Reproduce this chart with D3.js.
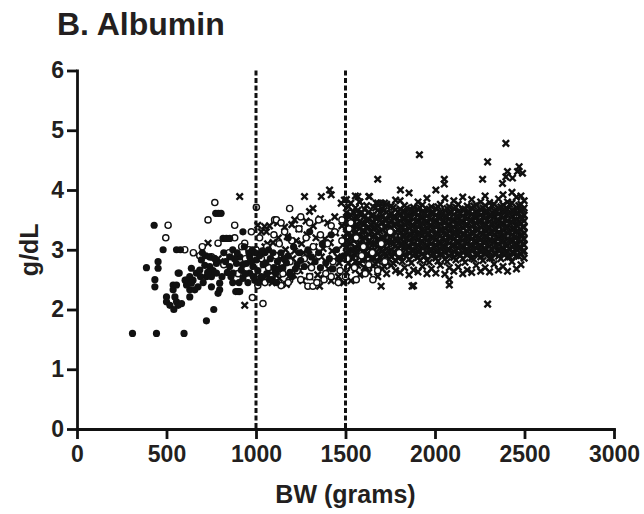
<!DOCTYPE html>
<html>
<head>
<meta charset="utf-8">
<script src="https://cdn.jsdelivr.net/npm/d3@7"></script>
<style>
html,body{margin:0;padding:0;background:#fff;}
svg{display:block;}
text{font-family:"Liberation Sans",Arial,Helvetica,sans-serif;font-weight:bold;fill:#231f20;}
</style>
</head>
<body>
<svg id="chart" width="644" height="514"></svg>
<script>
// ---- data ----
const title = "B. Albumin";
const xLabel = "BW (grams)";
const yLabel = "g/dL";
const xTicks = [0, 500, 1000, 1500, 2000, 2500, 3000];
const yTicks = [0, 1, 2, 3, 4, 5, 6];
const cutoffs = [1000, 1500];

// filled circles: [BW g, albumin g/dL]
const filledPts = [
 [310,1.60],[444,1.60],[598,1.60],[723,1.81],[764,2.00],[431,3.41],[481,3.00],[556,3.00],[578,3.00],
 [453,2.80],[453,2.69],[388,2.70],[435,2.50],[435,2.38],[537,2.41],[537,2.33],[500,2.21],[500,2.13],
 [519,2.07],[547,2.21],[556,2.13],[565,2.07],[584,2.10],[541,2.00],[571,2.61],[630,2.55],[630,2.33],
 [630,2.21],[639,2.69],[604,2.49],[612,2.41],[648,2.49],[667,2.61],[686,2.66],[695,2.83],[714,2.74],
 [723,2.55],[676,2.38],[658,2.33],[742,2.88],[742,2.72],[751,2.55],[751,2.38],[779,2.77],[779,2.61],
 [797,2.44],[797,2.33],[788,2.27],[775,3.61],[790,3.61],[805,3.61],[816,3.19],[835,3.19],[853,3.19],
 [887,2.30],[900,2.30],[909,2.30],[927,3.30],[853,2.88],[853,2.72],[872,2.61],[891,2.77],[909,2.88],
 [918,2.66],[927,2.52],[946,2.77],[965,2.88],[965,2.61],[983,2.72],[993,2.49],[1002,2.83],[612,2.49],
 [639,2.44],[565,2.61],[556,2.41],[700,2.95],[820,2.95],[870,3.00],[935,3.05],[960,2.95],[980,3.00],
 [1020,2.90],[1040,2.75],[1060,2.60],[1080,2.85],[1100,2.70],[1030,2.55],[1070,3.00],[1010,2.65],
 [1050,2.95],[1090,2.50],[1120,2.80],[1110,2.60],[1150,2.70],[1180,2.90],[1200,2.55],[1230,2.75],
 [1140,2.95],[1170,2.78],[1210,3.05],[1250,2.82],[1290,3.00],[1330,2.80],[1370,3.10],[1410,2.85],
 [1450,3.00],[1490,2.90],[1180,3.20],[1300,3.30],[1420,3.25],[1220,2.68],[1360,2.70],
 [870,2.45],[880,2.85],[895,2.95],[905,2.45],[925,2.75],[940,2.60],[955,2.45],[975,2.80],[985,2.55],
 [995,2.95],[860,2.55],[840,2.62],[830,2.80],[810,2.55],[760,2.65],[770,2.85],[730,2.62],[705,2.45],
 [690,2.55],[720,2.90],[1015,2.45],[1035,2.98],[1055,2.78],[1075,2.50],[1095,2.95],[1115,2.45],
 [1130,2.68],[1160,2.85],[1190,2.62],[1240,2.95],[1270,2.72],[1310,2.88],[1350,2.95],[1390,2.78],
 [1430,2.68],[1470,2.85]
];

// open circles
const openPts = [
 [509,3.41],[496,3.20],[602,3.00],[770,3.79],[732,3.50],[881,3.41],[881,3.20],[1002,3.71],[1039,2.10],
 [1104,3.50],[974,3.30],[937,3.11],[686,2.90],[788,3.11],[751,2.88],[1188,3.69],[1653,2.50],[1290,2.39],
 [1318,2.39],[1188,2.49],[1114,3.50],
 [1020,3.20],[1060,3.05],[1100,3.25],[1130,3.10],[1160,3.30],[1200,3.15],[1240,3.35],[1280,3.20],
 [1320,3.05],[1360,3.25],[1400,3.10],[1440,3.30],[1480,3.15],[1520,3.35],[1560,3.20],[1600,3.05],
 [1030,2.85],[1070,2.70],[1110,2.90],[1150,2.60],[1190,2.80],[1230,2.65],[1270,2.85],[1310,2.70],
 [1350,2.90],[1390,2.60],[1430,2.80],[1470,2.65],[1510,2.85],[1550,2.70],[1590,2.90],[1630,2.75],
 [1050,2.45],[1090,2.55],[1140,2.40],[1180,2.45],[1250,2.50],[1300,2.55],[1340,2.45],[1380,2.50],
 [1420,2.55],[1460,2.45],[1500,2.55],[1560,2.50],[1610,2.60],[1680,2.65],
 [900,2.60],[940,2.85],[960,3.00],[850,2.95],[820,2.75],[700,3.05],[650,2.95],[920,3.05],[1000,3.00],
 [1010,2.40],[980,2.20],[1000,2.50],[1140,3.45],[1250,3.55],[1300,3.45],[1350,3.50],[1420,3.40],
 [1480,3.50],[1530,3.45],[1700,3.10],[1750,3.30],[1800,2.95],[1650,2.95],[1720,2.80]
];

// crosses, sparse points and outliers
const crossSparse = [
 [1010,3.41],[1048,3.39],[1058,3.30],[1216,3.50],[1299,3.64],[1318,3.69],[1271,3.89],[1365,3.89],
 [1420,3.92],[1411,4.00],[1476,3.78],[1494,3.83],[1569,3.89],[1578,3.80],[1634,3.89],[1671,3.78],
 [1699,3.78],[1718,3.78],[1680,4.18],[1807,4.00],[2005,4.00],[2052,4.18],[2052,4.10],[2266,4.18],
 [1913,4.59],[2294,4.47],[2396,4.78],[2470,4.39],[2461,4.31],[2489,4.28],[2405,4.31],[2396,4.22],
 [2433,4.20],[2377,4.11],[1699,2.39],[1355,2.39],[1872,2.39],[2080,2.50],[2080,2.41],[2294,2.09],
 [909,3.89],[732,3.11],[937,2.07],[788,2.85],[800,2.80],
 [1020,2.95],[1045,2.75],[1065,3.10],[1085,2.60],[1105,2.90],[1125,3.20],[1145,2.70],[1165,3.00],
 [1185,2.55],[1205,2.85],[1225,3.15],[1245,2.65],[1265,2.95],[1285,3.25],[1305,2.75],[1325,3.05],
 [1345,2.58],[1365,2.88],[1385,3.18],[1405,2.68],[1425,2.98],[1445,3.28],[1465,2.78],[1485,3.08],
 [1030,3.30],[1075,3.40],[1120,3.45],[1160,3.38],[1200,3.42],[1240,3.35],[1280,3.48],[1320,3.40],
 [1360,3.52],[1400,3.45],[1440,3.55],[1480,3.40],
 [1040,2.50],[1090,2.45],[1130,2.52],[1170,2.42],[1210,2.58],[1260,2.48],[1300,2.55],[1340,2.45],
 [1380,2.52],[1420,2.48],[1460,2.55],[1490,2.45],
 [1050,3.05],[1095,3.12],[1135,2.85],[1175,3.22],[1215,2.98],[1255,3.10],[1295,2.92],[1335,3.20],
 [1375,3.02],[1415,3.12],[1455,2.88],[1495,3.20]
];

// crosses in the dense band, one row per BW column: [BW, albumin values...]
const crossBand1500 = [
 [1505,2.62,2.85,2.95,3.05,3.15,3.27,3.38,3.50,3.62,3.84],
 [1530,2.48,2.72,2.88,2.99,3.10,3.22,3.33,3.44,3.58,3.78],
 [1555,2.66,2.80,2.92,3.04,3.18,3.29,3.41,3.55,3.70,3.90],
 [1580,2.58,2.77,2.90,3.01,3.12,3.24,3.36,3.47,3.60,3.80],
 [1605,2.70,2.84,2.96,3.08,3.20,3.31,3.43,3.56,3.68],
 [1630,2.62,2.78,2.91,3.02,3.14,3.26,3.38,3.51,3.63,3.89],
 [1655,2.73,2.86,2.98,3.10,3.22,3.35,3.46,3.58,3.72],
 [1680,2.55,2.81,2.93,3.05,3.17,3.28,3.40,3.53,3.66,3.78],
 [1705,2.68,2.84,2.97,3.09,3.21,3.33,3.45,3.57,3.69],
 [1730,2.60,2.79,2.90,3.02,3.15,3.27,3.39,3.50,3.63,3.76],
 [1755,2.74,2.88,3.00,3.12,3.24,3.36,3.48,3.61,3.73],
 [1780,2.65,2.82,2.94,3.06,3.18,3.30,3.43,3.55,3.67,3.83]
];
const crossBand1800 = [
 [1805,2.62,2.88,2.98,3.08,3.18,3.28,3.38,3.48,3.58,3.68,3.82],
 [1830,2.70,2.92,3.03,3.13,3.23,3.33,3.43,3.53,3.63,3.74],
 [1855,2.58,2.84,2.95,3.05,3.16,3.26,3.36,3.47,3.57,3.67,3.95],
 [1880,2.40,2.66,2.90,3.00,3.10,3.20,3.31,3.41,3.51,3.61,3.71],
 [1905,2.63,2.87,2.97,3.07,3.17,3.27,3.38,3.48,3.58,3.68,3.80],
 [1930,2.72,2.93,3.03,3.14,3.24,3.34,3.44,3.54,3.64,3.75],
 [1955,2.60,2.82,2.96,3.06,3.16,3.26,3.37,3.47,3.57,3.67,3.86],
 [1980,2.68,2.90,3.00,3.10,3.21,3.31,3.41,3.51,3.61,3.72],
 [2005,2.61,2.86,2.97,3.07,3.17,3.28,3.38,3.48,3.58,3.69],
 [2030,2.74,2.92,3.02,3.12,3.23,3.33,3.43,3.53,3.63,3.76],
 [2055,2.59,2.84,2.95,3.05,3.15,3.25,3.36,3.46,3.56,3.66,3.86],
 [2080,2.70,2.90,3.00,3.11,3.21,3.31,3.41,3.51,3.61,3.72],
 [2105,2.64,2.87,2.97,3.08,3.18,3.28,3.38,3.49,3.59,3.69,3.82]
];
const crossBand2130 = [
 [2130,2.71,2.93,3.03,3.13,3.24,3.34,3.44,3.54,3.64,3.76],
 [2155,2.60,2.85,2.96,3.06,3.16,3.26,3.37,3.47,3.57,3.67,3.88],
 [2180,2.66,2.91,3.01,3.11,3.21,3.31,3.42,3.52,3.62,3.73],
 [2205,2.62,2.86,2.98,3.08,3.18,3.29,3.39,3.49,3.59,3.70,3.84],
 [2230,2.74,2.93,3.03,3.13,3.23,3.34,3.44,3.54,3.64,3.75],
 [2255,2.64,2.88,2.97,3.07,3.17,3.28,3.38,3.48,3.58,3.68,3.80],
 [2280,2.70,2.92,3.02,3.12,3.22,3.32,3.43,3.53,3.63,3.74,3.90],
 [2305,2.63,2.86,2.96,3.06,3.16,3.27,3.37,3.47,3.57,3.67,3.79],
 [2330,2.76,2.94,3.04,3.14,3.25,3.35,3.45,3.55,3.65,3.76],
 [2355,2.66,2.89,2.99,3.09,3.19,3.29,3.40,3.50,3.60,3.70,3.85],
 [2380,2.72,2.93,3.03,3.13,3.23,3.33,3.44,3.54,3.64,3.75,3.92],
 [2405,2.64,2.87,2.97,3.07,3.18,3.28,3.38,3.48,3.58,3.68,3.80],
 [2430,2.80,2.95,3.05,3.15,3.25,3.35,3.46,3.56,3.66,3.78,3.96],
 [2455,2.68,2.90,3.00,3.10,3.20,3.30,3.41,3.51,3.61,3.71,3.88],
 [2480,2.75,2.94,3.04,3.14,3.24,3.34,3.44,3.55,3.65,3.76,3.90],
 [2498,2.86,2.98,3.08,3.18,3.28,3.38,3.48,3.58,3.70,3.82]
];
// crosses between the columns above (core of the band)
const crossBandMid = [
 [1517,2.78,2.97,3.13,3.30,3.44,3.56,3.72],[1543,2.86,3.00,3.16,3.35,3.48,3.63],
 [1568,2.74,2.96,3.09,3.24,3.39,3.52,3.66],[1592,2.83,3.03,3.17,3.31,3.45,3.62],
 [1618,2.69,2.92,3.07,3.21,3.36,3.49,3.74],[1643,2.85,2.99,3.12,3.30,3.42,3.57],
 [1668,2.76,2.95,3.09,3.24,3.37,3.53,3.70],[1692,2.88,3.02,3.15,3.31,3.49,3.62],
 [1717,2.72,2.93,3.06,3.19,3.38,3.51,3.66],[1742,2.84,2.98,3.13,3.29,3.43,3.58],
 [1768,2.77,2.96,3.10,3.23,3.41,3.54,3.71],[1793,2.87,3.01,3.16,3.34,3.46,3.63],
 [1817,2.80,2.94,3.09,3.23,3.36,3.52,3.64],[1842,2.89,3.05,3.19,3.31,3.45,3.58,3.70],
 [1868,2.78,2.99,3.12,3.25,3.40,3.54,3.66],[1893,2.94,3.06,3.22,3.35,3.47,3.62],
 [1917,2.82,2.98,3.12,3.26,3.42,3.55,3.70],[1942,2.90,3.05,3.18,3.31,3.46,3.59],
 [1968,2.79,2.99,3.13,3.27,3.40,3.53,3.68],[1993,2.93,3.06,3.20,3.34,3.46,3.62],
 [2017,2.81,2.98,3.12,3.25,3.41,3.55,3.72],[2042,2.92,3.04,3.19,3.33,3.47,3.60],
 [2068,2.80,3.00,3.14,3.27,3.40,3.56,3.69],[2093,2.94,3.07,3.21,3.36,3.49,3.63],
 [2117,2.83,2.99,3.13,3.27,3.43,3.55,3.71],[2142,2.91,3.05,3.18,3.32,3.46,3.60],
 [2168,2.79,2.98,3.12,3.26,3.41,3.54,3.68],[2193,2.94,3.06,3.21,3.35,3.48,3.63],
 [2217,2.84,3.00,3.14,3.28,3.42,3.57,3.73],[2242,2.92,3.05,3.19,3.33,3.47,3.61],
 [2268,2.82,2.99,3.13,3.26,3.40,3.55,3.70],[2293,2.95,3.08,3.22,3.36,3.50,3.64],
 [2317,2.86,3.01,3.15,3.29,3.44,3.58,3.74],[2342,2.93,3.06,3.20,3.34,3.48,3.62],
 [2368,2.85,3.00,3.14,3.27,3.42,3.56,3.72],[2392,2.96,3.09,3.23,3.37,3.51,3.66],
 [2417,2.88,3.02,3.16,3.30,3.45,3.60,3.76],[2443,2.94,3.07,3.21,3.35,3.49,3.64],
 [2468,2.89,3.03,3.17,3.31,3.46,3.61,3.74],[2490,2.97,3.10,3.24,3.38,3.52,3.67]
];

// ---- drawing ----
const svg = d3.select("#chart");
svg.append("rect").attr("width",644).attr("height",514).attr("fill","#fff");

const x = d3.scaleLinear().domain([0,3000]).range([77,614]);
const y = d3.scaleLinear().domain([0,6]).range([429,70.5]);

const bandRows = [...crossBand1500, ...crossBand1800, ...crossBand2130, ...crossBandMid];
const crossPts = crossSparse.concat(bandRows.flatMap(r => r.slice(1).map(v => [r[0], v])));

const plot = svg.append("g");

// crosses
plot.append("g").selectAll("path").data(crossPts).join("path")
  .attr("transform", d => `translate(${x(d[0])},${y(d[1])})`)
  .attr("d", "M-3.2,-3.2L3.2,3.2M-3.2,3.2L3.2,-3.2")
  .attr("stroke", "#111").attr("stroke-width", 2.4).attr("fill","none");

// open circles
plot.append("g").selectAll("circle").data(openPts).join("circle")
  .attr("cx", d => x(d[0])).attr("cy", d => y(d[1])).attr("r", 3.1)
  .attr("fill", "#fff").attr("stroke", "#111").attr("stroke-width", 1.4);

// filled circles
plot.append("g").selectAll("circle").data(filledPts).join("circle")
  .attr("cx", d => x(d[0])).attr("cy", d => y(d[1])).attr("r", 3.6)
  .attr("fill", "#111");

// dashed cut-off lines
svg.append("g").selectAll("line").data(cutoffs).join("line")
  .attr("x1", d => x(d)).attr("x2", d => x(d))
  .attr("y1", y(6)).attr("y2", y(0))
  .attr("stroke", "#111").attr("stroke-width", 3).attr("stroke-dasharray", "5,2.5");

// axes
const xAxis = svg.append("g").attr("transform", `translate(0,${y(0)})`)
  .call(d3.axisBottom(x).tickValues(xTicks).tickSize(10).tickSizeOuter(0).tickPadding(7).tickFormat(d3.format("d")));
const yAxis = svg.append("g").attr("transform", `translate(${x(0)},0)`)
  .call(d3.axisLeft(y).tickValues(yTicks).tickSize(10).tickSizeOuter(0).tickPadding(3).tickFormat(d3.format("d")));
[xAxis, yAxis].forEach(a => {
  a.select(".domain").attr("stroke","#111").attr("stroke-width",2.8).attr("stroke-linecap","square");
  a.selectAll(".tick line").attr("stroke","#111").attr("stroke-width",2.8);
  a.selectAll(".tick text").attr("font-size",23).attr("font-family",null).attr("fill","#231f20");
});

// titles
svg.append("text").attr("x",57).attr("y",35).attr("font-size",32).text(title);
svg.append("text").attr("x",(x(0)+x(3000))/2).attr("y",503).attr("text-anchor","middle")
  .attr("font-size",25).text(xLabel);
svg.append("text").attr("transform",`translate(38,${(y(0)+y(6))/2}) rotate(-90)`)
  .attr("text-anchor","middle").attr("font-size",25).text(yLabel);
</script>
</body>
</html>
